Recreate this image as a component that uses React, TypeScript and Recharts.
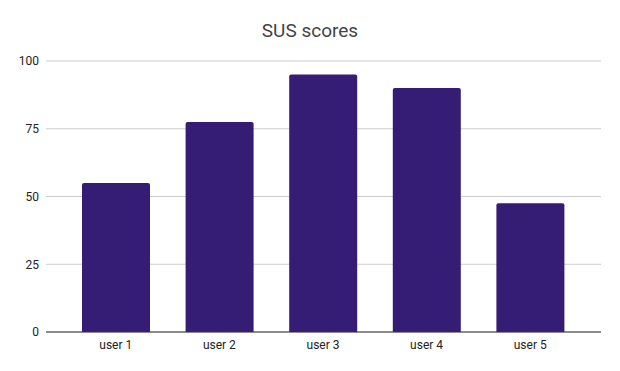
import React from 'react';
import { BarChart, Bar, XAxis, YAxis, CartesianGrid } from 'recharts';

const users = ['user 1', 'user 2', 'user 3', 'user 4', 'user 5'];
const scores = [55, 77.5, 95, 90, 47.5];
const yTicks = [0, 25, 50, 75, 100];

const data = users.map((name, i) => ({ name, score: scores[i] }));

const tickStyle = { fill: '#222', fontSize: 12, fontFamily: 'Roboto' };

export default function App() {
  return (
    <div style={{ position: 'absolute', left: 0, top: 0, width: 620, height: 371, background: '#fff' }}>
      <div
        style={{
          position: 'absolute', left: 0, top: 19, width: 620, textAlign: 'center',
          fontFamily: 'Roboto', fontSize: 19, color: '#444', lineHeight: '24px',
        }}
      >
        SUS scores
      </div>
      <BarChart
        width={620}
        height={371}
        data={data}
        margin={{ top: 61, right: 19, bottom: 9, left: 0 }}
      >
        <CartesianGrid vertical={false} stroke="#ccc" />
        <XAxis
          dataKey="name"
          height={30}
          padding={{ left: 18, right: 19 }}
          axisLine={{ stroke: '#333' }}
          tickLine={false}
          tickSize={0}
          tickMargin={8}
          tick={tickStyle}
        />
        <YAxis
          width={46}
          domain={[0, 100]}
          ticks={yTicks}
          axisLine={false}
          tickLine={false}
          tickSize={0}
          tickMargin={7}
          tick={tickStyle}
        />
        <Bar dataKey="score" fill="#351c75" barSize={68} radius={[2, 2, 0, 0]} isAnimationActive={false} />
      </BarChart>
    </div>
  );
}
